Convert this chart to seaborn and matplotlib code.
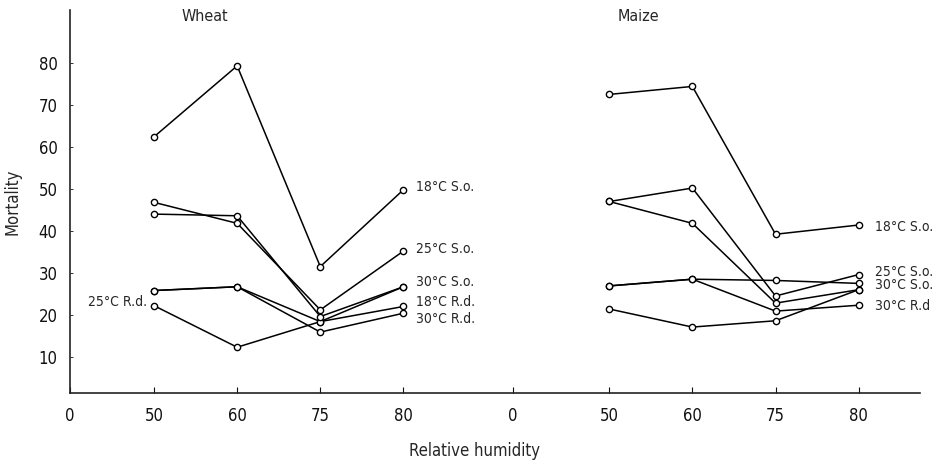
import numpy as np
import pandas as pd
import matplotlib
matplotlib.use("Agg")
import matplotlib.pyplot as plt
import seaborn as sns

# humidity levels and mortality readings
humidity = ["50", "60", "75", "80"]
series_names = ["18°C S.o.", "25°C S.o.", "30°C S.o.", "18°C R.d.", "25°C R.d.", "30°C R.d."]

wheat_18so = [62.4, 79.3, 31.5, 49.8]
wheat_25so = [46.8, 41.8, 21.2, 35.2]
wheat_30so = [44.0, 43.6, 19.6, 26.7]
wheat_18rd = [25.8, 26.7, 18.4, 22.0]
wheat_25rd = [22.2, 12.3, 18.4, 26.7]
wheat_30rd = [25.8, 26.7, 15.9, 20.4]

maize_18so = [72.5, 74.4, 39.2, 41.4]
maize_25so = [47.0, 50.2, 24.5, 29.6]
maize_30so = [26.9, 28.5, 28.2, 27.5]
maize_18rd = [47.0, 41.8, 22.8, 26.0]
maize_25rd = [21.4, 17.1, 18.6, 26.0]
maize_30rd = [26.9, 28.5, 20.9, 22.3]

wheat_labels = ["18°C S.o.", "25°C S.o.", "30°C S.o.", "18°C R.d.", "30°C R.d."]
wheat_label_y = [50.5, 35.8, 27.8, 23.0, 19.0]
maize_labels = ["18°C S.o.", "25°C S.o.", "30°C S.o.", "30°C R.d"]
maize_label_y = [41.0, 30.3, 27.0, 22.0]

# layout: where each group's humidity axis starts
group_start = {"Wheat": 1.0, "Maize": 6.42}
zero_pos = [0.0, 5.27]

crops = {
    "Wheat": [wheat_18so, wheat_25so, wheat_30so, wheat_18rd, wheat_25rd, wheat_30rd],
    "Maize": [maize_18so, maize_25so, maize_30so, maize_18rd, maize_25rd, maize_30rd],
}

rows = []
for crop, lines in crops.items():
    for name, vals in zip(series_names, lines):
        for i, (h, v) in enumerate(zip(humidity, vals)):
            rows.append({"crop": crop, "series": name, "line": crop + " " + name,
                         "humidity": h, "pos": group_start[crop] + i * 0.99, "mortality": v})
df = pd.DataFrame(rows)

sns.set_style("ticks")
plt.rcParams["font.family"] = ["DejaVu Sans"]
plt.rcParams["font.stretch"] = "condensed"

fig = plt.figure(figsize=(9.35, 4.62), dpi=100)
ax = fig.add_axes([70 / 935, 1 - 393 / 462, 850 / 935, 383 / 462])

sns.lineplot(data=df, x="pos", y="mortality", units="line", estimator=None,
             color="black", linewidth=1.1, marker="o", markersize=4.5,
             markerfacecolor="white", markeredgecolor="black", markeredgewidth=1.0,
             ax=ax, legend=False)

ax.set_xlim(0, 10.12)
ax.set_ylim(1.4, 92.6)

xt = [zero_pos[0]] + [group_start["Wheat"] + i * 0.99 for i in range(4)] + \
     [zero_pos[1]] + [group_start["Maize"] + i * 0.99 for i in range(4)]
ax.set_xticks(xt)
ax.set_xticklabels(["0"] + humidity + ["0"] + humidity)
ax.set_yticks([10, 20, 30, 40, 50, 60, 70, 80])
ax.tick_params(axis="x", direction="in", length=4, width=0.8, labelsize=12, pad=10, colors="#111111")
ax.tick_params(axis="y", direction="in", length=2, width=0.6, labelsize=12, pad=9, colors="#111111")

sns.despine(ax=ax)
for s in ["left", "bottom"]:
    ax.spines[s].set_linewidth(1.2)
    ax.spines[s].set_color("#222222")

ax.set_xlabel("Relative humidity", fontsize=12)
ax.set_ylabel("Mortality", fontsize=12)
ax.xaxis.set_label_coords(405 / 850, -0.128)
ax.yaxis.set_label_coords(-0.057, 0.5)

ax.text(group_start["Wheat"] + 0.6, 91, "Wheat", fontsize=11.5, ha="center", va="center")
ax.text(group_start["Maize"] + 0.35, 91, "Maize", fontsize=11.5, ha="center", va="center")

wx = group_start["Wheat"] + 3 * 0.99 + 0.15
for lab, y in zip(wheat_labels, wheat_label_y):
    ax.text(wx, y, lab, fontsize=10, ha="left", va="center")
ax.text(group_start["Wheat"] - 0.08, 23.0, "25°C R.d.", fontsize=10, ha="right", va="center")

mx = group_start["Maize"] + 3 * 0.99 + 0.2
for lab, y in zip(maize_labels, maize_label_y):
    ax.text(mx, y, lab, fontsize=10, ha="left", va="center")

fig.savefig("out.png", dpi=100)
